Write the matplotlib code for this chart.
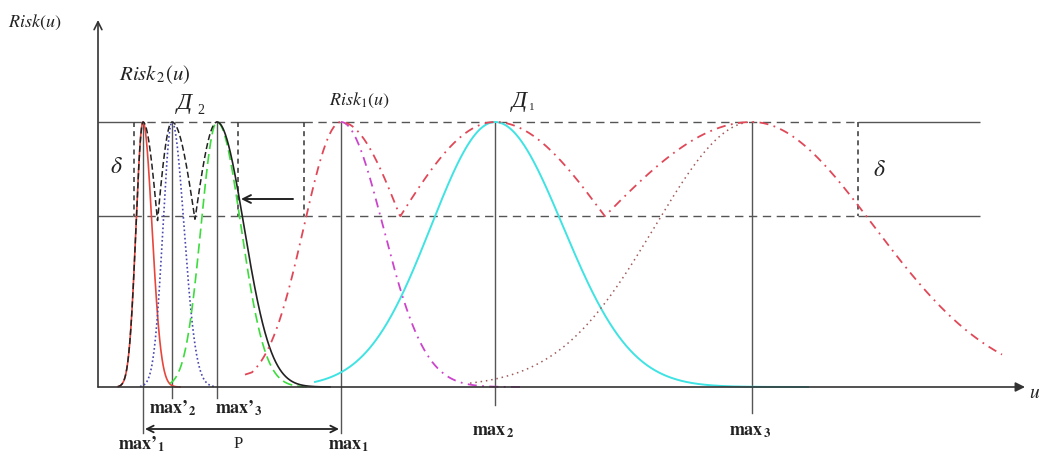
import numpy as np
import matplotlib
matplotlib.use("Agg")
import matplotlib.pyplot as plt

# ---------------- data (diagram values, in pixel-like u units) ----------------
delta_level = 0.645                      # level of the delta band (fraction of peak)
# narrow curves (Risk2 family): peak positions max'1, max'2, max'3
narrow_peaks = [143, 172, 217]
narrow_sig_left = [7, 9, 16]
narrow_sig_right = [9, 12, 24]
narrow_ranges = [(118, 180), (140, 215), (170, 310)]
# envelope D2 (black) components
env2_sig_left = [7, 15, 23]
env2_sig_right = [15, 24, 27]
env2_range = (118, 330)
# wide curves: peak positions max1, max2, max3
wide_peaks = [341, 495, 752]
env1_sig_left = [37, 101, 157]
env1_sig_right = [63, 117, 122]
env1_range = (245, 1002)
risk1_sig_right = 42        # magenta right flank of Risk1
risk1_range = (341, 525)
cyan_sig = [64, 68]          # D1 curve (max2)
cyan_range = (315, 808)
dotted3_sig_left = 97        # brown dotted left flank of max3 curve
dotted3_range = (470, 752)

top_segments_solid = [(98, 133), (238, 304), (858, 980)]
top_segments_dashed = [(133, 238), (304, 858)]
delta_markers = [134, 238, 304, 858]

# --------------------------------------------------------------------------
BASE = 387.0
SCALE = 265.0

def vy(ypx):
    return (BASE - ypx) / SCALE

def agauss(x, c, sl, sr):
    s = np.where(x < c, sl, sr)
    return np.exp(-(x - c) ** 2 / (2.0 * s ** 2))

plt.rcParams['mathtext.fontset'] = 'stix'
SERIF = ['Liberation Serif', 'DejaVu Serif']

fig = plt.figure(figsize=(10.39, 4.55), dpi=100)
ax = fig.add_axes([0, 0, 1, 1])
ax.set_xlim(0, 1039)
ax.set_ylim(vy(455), vy(0))
ax.axis('off')

gray = '#555555'
lw_g = 1.0

# horizontal top line and delta line
for lev in (1.0, delta_level):
    for a, b in top_segments_solid:
        ax.plot([a, b], [lev, lev], color=gray, lw=lw_g, solid_capstyle='butt')
    for a, b in top_segments_dashed:
        ax.plot([a, b], [lev, lev], color=gray, lw=lw_g, ls=(0, (6, 4)))

# axes with arrows
ax.annotate('', xy=(98, vy(20)), xytext=(98, vy(387)),
            arrowprops=dict(arrowstyle='->', color='#333333', lw=1.2,
                            mutation_scale=14, shrinkA=0, shrinkB=0))
ax.annotate('', xy=(1025, 0), xytext=(98, 0),
            arrowprops=dict(arrowstyle='-|>', color='#333333', lw=1.2,
                            mutation_scale=14, shrinkA=0, shrinkB=0))

# solid vertical lines at maxima
vbottoms = {143: 433, 172: 398, 217: 398, 341: 433, 495: 405, 752: 413}
for xp in narrow_peaks + wide_peaks:
    ax.plot([xp, xp], [1.0, vy(vbottoms[xp])], color=gray, lw=lw_g)

# dashed delta markers
for xp in delta_markers:
    ax.plot([xp, xp], [1.0, delta_level], color='#444444', lw=1.2, ls=(0, (3, 2.5)))

# ---- narrow curves ----
colors_n = ['#e8463c', '#4848b0', '#3ddc3d']
styles_n = ['-', (0, (1, 1.5)), (0, (6, 3))]
for c, sl, sr, (a, b), col, st in zip(narrow_peaks, narrow_sig_left, narrow_sig_right,
                                        narrow_ranges, colors_n, styles_n):
    x = np.linspace(a, b, 400)
    ax.plot(x, agauss(x, c, sl, sr), color=col, lw=1.2, ls=st)

# ---- envelope D2 (black) ----
x = np.linspace(*env2_range, 800)
env2 = np.max([agauss(x, c, sl, sr) for c, sl, sr in
               zip(narrow_peaks, env2_sig_left, env2_sig_right)], axis=0)
m = x <= narrow_peaks[2]
ax.plot(x[m], env2[m], color='#222222', lw=1.1, ls=(0, (4, 2)))
ax.plot(x[~m], env2[~m], color='#222222', lw=1.2, ls='-')

# ---- cyan D1 curve ----
x = np.linspace(*cyan_range, 600)
ax.plot(x, agauss(x, wide_peaks[1], cyan_sig[0], cyan_sig[1]), color='#3fe3e3', lw=1.4)

# ---- brown dotted ----
x = np.linspace(*dotted3_range, 400)
ax.plot(x, agauss(x, wide_peaks[2], dotted3_sig_left, dotted3_sig_left),
        color='#a05a5a', lw=1.1, ls=(0, (1, 2.5)))

# ---- magenta right flank of Risk1 ----
x = np.linspace(*risk1_range, 400)
ax.plot(x, agauss(x, wide_peaks[0], risk1_sig_right, risk1_sig_right),
        color='#cc44cc', lw=1.3, ls=(0, (5, 3, 1, 3)))

# ---- red dash-dot envelope D1 ----
x = np.linspace(*env1_range, 1200)
env1 = np.max([agauss(x, c, sl, sr) for c, sl, sr in
               zip(wide_peaks, env1_sig_left, env1_sig_right)], axis=0)
ax.plot(x, env1, color='#e04858', lw=1.3, ls=(0, (5, 3, 1, 3)))

# arrow (shift)
ax.annotate('', xy=(241, vy(199)), xytext=(293, vy(199)),
            arrowprops=dict(arrowstyle='->', color='#222222', lw=1.4,
                            mutation_scale=14, shrinkA=0, shrinkB=0))
# P double arrow
ax.annotate('', xy=(145, vy(429)), xytext=(339, vy(429)),
            arrowprops=dict(arrowstyle='<->', color='#222222', lw=1.3,
                            mutation_scale=12, shrinkA=0, shrinkB=0))

# ---- texts ----
tk = dict(color='#222222', va='center', ha='center')
ax.text(35, vy(22), r'$Risk(u)$', fontsize=13, **tk)
ax.text(155, vy(75), r'$Risk_{\,2}(u)$', fontsize=15, **tk)
ax.text(359, vy(100), r'$Risk_{1}(u)$', fontsize=13, **tk)
ax.text(184, vy(103), 'Д', family=SERIF, style='italic', fontsize=17, **tk)
ax.text(201, vy(110), '2', family=SERIF, fontsize=10, **tk)
ax.text(519, vy(101), 'Д', family=SERIF, style='italic', fontsize=17, **tk)
ax.text(532, vy(107), '1', family=SERIF, fontsize=8, **tk)
ax.text(116, vy(166), r'$\delta$', fontsize=17, **tk)
ax.text(879, vy(169), r'$\delta$', fontsize=17, **tk)
ax.text(1035, vy(393), r'$u$', fontsize=14, **tk)

lab = dict(fontsize=13, color='#222222', va='center', ha='left')
ax.text(149, vy(408), "$\\mathbf{max\u2019}_{\\mathbf{2}}$", **lab)
ax.text(215, vy(408), "$\\mathbf{max\u2019}_{\\mathbf{3}}$", **lab)
ax.text(118, vy(444), "$\\mathbf{max\u2019}_{\\mathbf{1}}$", **lab)
ax.text(238, vy(444), 'P', family=SERIF, fontsize=12, color='#222222', va='center', ha='center')
ax.text(328, vy(445), r"$\mathbf{max}_{\mathbf{1}}$", **lab)
ax.text(472, vy(431), r"$\mathbf{max}_{\,\mathbf{2}}$", **lab)
ax.text(729, vy(431), r"$\mathbf{max}_{\,\mathbf{3}}$", **lab)

fig.savefig('out.png', dpi=100)
